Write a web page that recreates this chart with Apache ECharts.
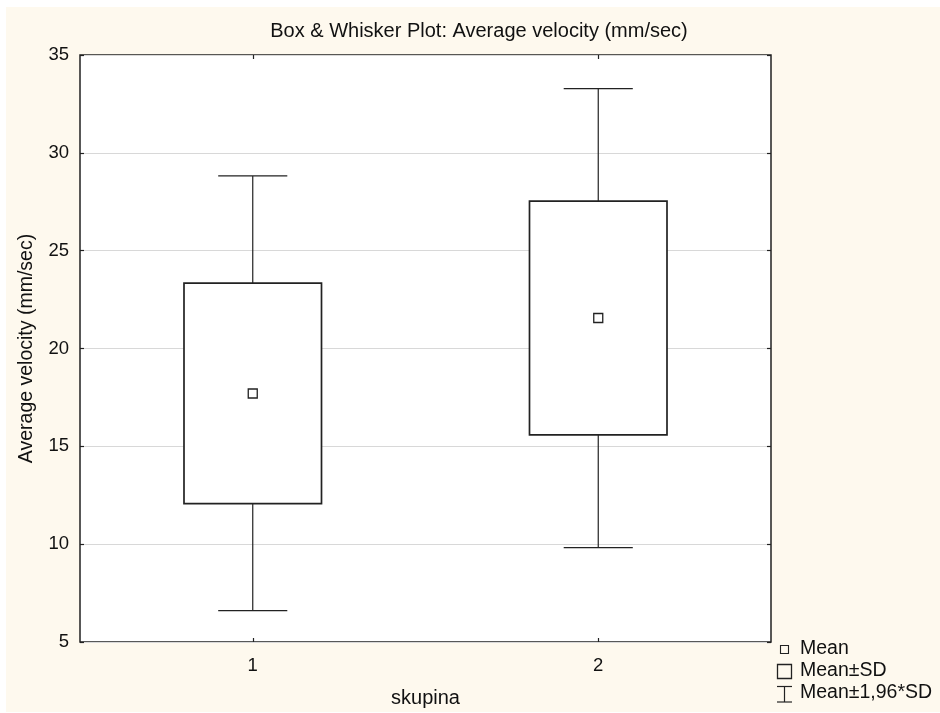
<!DOCTYPE html>
<html>
<head>
<meta charset="utf-8">
<script src="https://cdn.jsdelivr.net/npm/echarts@6/dist/echarts.min.js"></script>
<style>
html,body{margin:0;padding:0;background:#ffffff;}
#c{width:940px;height:713px;}
</style>
</head>
<body>
<div id="c"></div>
<script>
// Data
var categories = ['1', '2'];
var meanValues = [17.70, 21.56];
var sdLowValues = [12.07, 15.59];
var sdHighValues = [23.34, 27.53];
var ciLowValues = [6.60, 9.82];
var ciHighValues = [28.82, 33.28];
var yTicks = [5, 10, 15, 20, 25, 30, 35];

var FONT = "'Liberation Sans', Arial, sans-serif";
var INK = '#222222';

var seriesData = categories.map(function (c, i) {
  return [i, ciLowValues[i], sdLowValues[i], meanValues[i], sdHighValues[i], ciHighValues[i]];
});

function renderItem(params, api) {
  var idx = api.value(0);
  var band = api.size([1, 0])[0];
  var cx = api.coord([idx, api.value(3)])[0];
  var yLo = api.coord([idx, api.value(1)])[1];
  var yBoxLo = api.coord([idx, api.value(2)])[1];
  var yMean = api.coord([idx, api.value(3)])[1];
  var yBoxHi = api.coord([idx, api.value(4)])[1];
  var yHi = api.coord([idx, api.value(5)])[1];
  var boxW = band * 0.398;
  var capW = band * 0.2;
  var m = 9;
  var lineStyle = {stroke: INK, lineWidth: 1.2, fill: null};
  return {
    type: 'group',
    children: [
      {type: 'line', shape: {x1: cx, y1: yHi, x2: cx, y2: yBoxHi}, style: lineStyle},
      {type: 'line', shape: {x1: cx - capW / 2, y1: yHi, x2: cx + capW / 2, y2: yHi}, style: lineStyle},
      {type: 'line', shape: {x1: cx, y1: yBoxLo, x2: cx, y2: yLo}, style: lineStyle},
      {type: 'line', shape: {x1: cx - capW / 2, y1: yLo, x2: cx + capW / 2, y2: yLo}, style: lineStyle},
      {type: 'rect', shape: {x: cx - boxW / 2, y: yBoxHi, width: boxW, height: yBoxLo - yBoxHi},
        style: {stroke: INK, lineWidth: 1.7, fill: '#ffffff'}},
      {type: 'rect', shape: {x: cx - m / 2, y: yMean - m / 2, width: m, height: m},
        style: {stroke: INK, lineWidth: 1.3, fill: '#ffffff'}}
    ]
  };
}

var chart = echarts.init(document.getElementById('c'), null, {renderer: 'canvas'});

var option = {
  backgroundColor: '#ffffff',
  animation: false,
  graphic: [
    {type: 'rect', z: -10, silent: true, shape: {x: 6, y: 7, width: 934, height: 705}, style: {fill: '#FEF9EE'}},
    {type: 'text', x: 479, y: 21, style: {text: 'Box & Whisker Plot: Average velocity (mm/sec)', font: '20px ' + FONT, fill: '#111', textAlign: 'center', textVerticalAlign: 'top'}},
    // legend
    {type: 'rect', shape: {x: 780.5, y: 645.5, width: 8, height: 8}, style: {stroke: INK, lineWidth: 1.1, fill: 'none'}},
    {type: 'text', x: 800, y: 639, style: {text: 'Mean', font: '19.5px ' + FONT, fill: '#111', textVerticalAlign: 'top'}},
    {type: 'rect', shape: {x: 777.5, y: 664.5, width: 14, height: 14}, style: {stroke: INK, lineWidth: 1.3, fill: 'none'}},
    {type: 'text', x: 800, y: 661, style: {text: 'Mean±SD', font: '19.5px ' + FONT, fill: '#111', textVerticalAlign: 'top'}},
    {type: 'group', children: [
      {type: 'line', shape: {x1: 777, y1: 686.5, x2: 792, y2: 686.5}, style: {stroke: INK, lineWidth: 1.2}},
      {type: 'line', shape: {x1: 784.5, y1: 686.5, x2: 784.5, y2: 702}, style: {stroke: INK, lineWidth: 1.2}},
      {type: 'line', shape: {x1: 777, y1: 702, x2: 792, y2: 702}, style: {stroke: INK, lineWidth: 1.2}}
    ]},
    {type: 'text', x: 800, y: 683, style: {text: 'Mean±1,96*SD', font: '19.5px ' + FONT, fill: '#111', textVerticalAlign: 'top'}}
  ],
  grid: {
    left: 80, right: 169, top: 55, bottom: 69,
    show: true, backgroundColor: '#ffffff', borderColor: INK, borderWidth: 1.5,
    containLabel: false
  },
  xAxis: [
    {
      type: 'category', data: categories, position: 'bottom',
      name: 'skupina', nameLocation: 'middle', nameGap: 46,
      nameTextStyle: {fontFamily: FONT, fontSize: 20, color: '#111'},
      axisLine: {show: false},
      axisTick: {show: true, inside: true, length: 4, alignWithLabel: true, lineStyle: {color: INK, width: 1.2}},
      axisLabel: {fontFamily: FONT, fontSize: 18.5, color: '#111', margin: 14},
      splitLine: {show: false}
    },
    {
      type: 'category', data: categories, position: 'top',
      axisLine: {show: false},
      axisTick: {show: true, inside: true, length: 4, alignWithLabel: true, lineStyle: {color: INK, width: 1.2}},
      axisLabel: {show: false},
      splitLine: {show: false}
    }
  ],
  yAxis: [
    {
      type: 'value', min: 5, max: 35, interval: 5, position: 'left',
      name: 'Average velocity (mm/sec)', nameLocation: 'middle', nameGap: 43,
      nameTextStyle: {fontFamily: FONT, fontSize: 19.5, color: '#111'},
      axisLine: {show: false},
      axisTick: {show: true, inside: true, length: 4, lineStyle: {color: INK, width: 1.2}},
      axisLabel: {fontFamily: FONT, fontSize: 18.5, color: '#111', margin: 11,
        formatter: function (v) { return yTicks.indexOf(v) >= 0 ? String(v) : ''; }},
      splitLine: {show: true, lineStyle: {color: '#d8d8d8', width: 1.2}}
    },
    {
      type: 'value', min: 5, max: 35, interval: 5, position: 'right',
      axisLine: {show: false},
      axisTick: {show: true, inside: true, length: 4, lineStyle: {color: INK, width: 1.2}},
      axisLabel: {show: false},
      splitLine: {show: false}
    }
  ],
  series: [
    {
      type: 'custom',
      xAxisIndex: 0, yAxisIndex: 0,
      renderItem: renderItem,
      encode: {x: 0, y: [1, 2, 3, 4, 5]},
      data: seriesData,
      z: 5
    }
  ]
};

chart.setOption(option);
</script>
</body>
</html>
